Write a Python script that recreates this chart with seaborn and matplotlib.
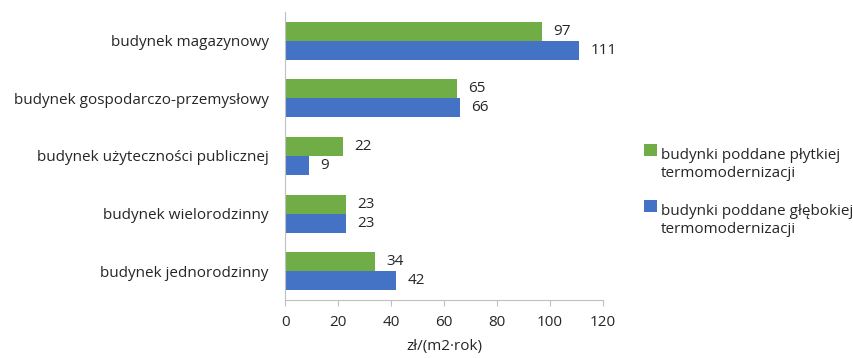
import matplotlib
matplotlib.use("Agg")
import matplotlib.pyplot as plt
import seaborn as sns
import pandas as pd

categories = [
    "budynek magazynowy",
    "budynek gospodarczo-przemysłowy",
    "budynek użyteczności publicznej",
    "budynek wielorodzinny",
    "budynek jednorodzinny",
]
shallow = [97, 65, 22, 23, 34]
deep = [111, 66, 9, 23, 42]
series_names = [
    "budynki poddane płytkiej\ntermomodernizacji",
    "budynki poddane głębokiej\ntermomodernizacji",
]
x_ticks = [0, 20, 40, 60, 80, 100, 120]
x_label = "zł/(m2·rok)"

df = pd.DataFrame({
    "kategoria": categories * 2,
    "wartosc": shallow + deep,
    "seria": [series_names[0]] * len(categories) + [series_names[1]] * len(categories),
})

sns.set_theme(style="white")
plt.rcParams["font.family"] = ["Open Sans", "DejaVu Sans"]
text_color = "#262626"
fs = 11

fig = plt.figure(figsize=(8.54, 3.58), dpi=100)
ax = fig.add_axes([0.334, 0.162, 0.372, 0.805])

sns.barplot(
    data=df, y="kategoria", x="wartosc", hue="seria",
    order=categories, hue_order=series_names,
    palette=["#70AD47", "#4472C4"], saturation=1, orient="h",
    width=0.66, gap=0, ax=ax, legend=True, linewidth=0,
)

for cont in ax.containers:
    ax.bar_label(cont, padding=8, fontsize=fs, color=text_color)

ax.set_xlim(0, 120)
ax.set_xticks(x_ticks)
ax.set_xlabel(x_label, fontsize=fs, color=text_color, labelpad=6)
ax.set_ylabel("")
ax.tick_params(axis="x", which="both", bottom=True, length=4, width=0.8,
               color="#BFBFBF", labelsize=fs, labelcolor=text_color, pad=7)
ax.tick_params(axis="y", left=False, length=0, labelsize=fs,
               labelcolor=text_color, pad=12)
for side in ["top", "right"]:
    ax.spines[side].set_visible(False)
for side in ["left", "bottom"]:
    ax.spines[side].set_color("#BFBFBF")
    ax.spines[side].set_linewidth(0.8)

handles, labels = ax.get_legend_handles_labels()
leg = ax.legend(
    handles, labels, loc="center left", bbox_to_anchor=(0.738, 0.462),
    bbox_transform=fig.transFigure, frameon=False, fontsize=fs,
    handlelength=0.85, handleheight=0.85, handletextpad=0.25,
    labelspacing=1.5, labelcolor=text_color,
)
for t in leg.get_texts():
    t.set_linespacing(1.3)
# align the colour swatch with the first line of each wrapped label
for patch in leg.legend_handles:
    patch.set_y(patch.get_y() + fs * 1.3 * 0.75)

fig.savefig("out.png", dpi=100)
